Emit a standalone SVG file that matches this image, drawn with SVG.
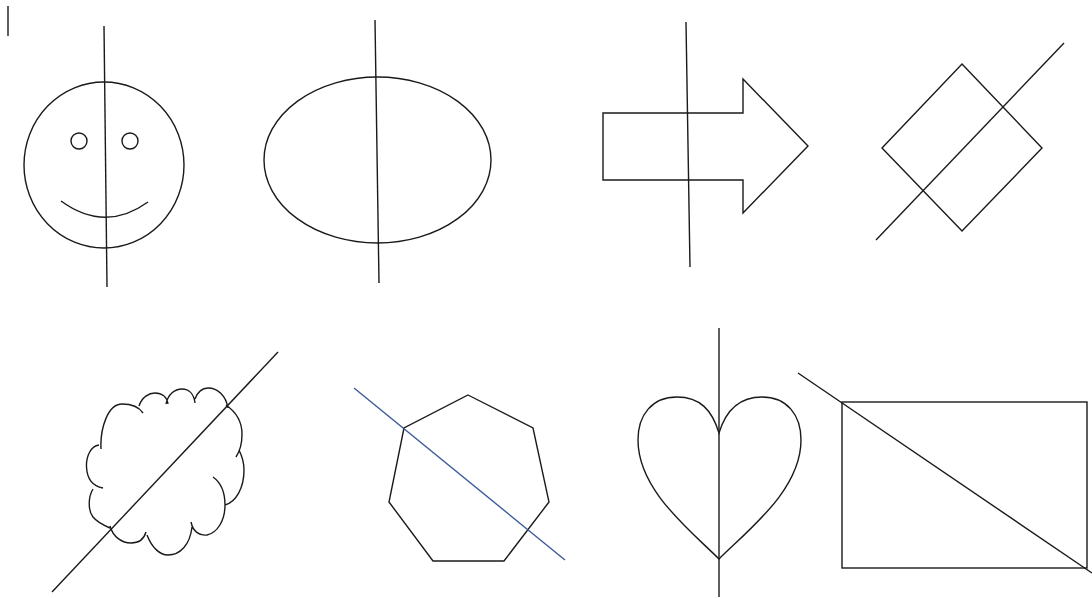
<svg xmlns="http://www.w3.org/2000/svg" width="1092" height="598" viewBox="0 0 1092 598">
<style>
.s{fill:none;stroke:#1a1a1a;stroke-width:1.4;stroke-linejoin:miter}
.b{fill:none;stroke:#3c5a99;stroke-width:1.4}
</style>
<rect width="1092" height="598" fill="#fff"/>
<line class="s" x1="8" y1="6" x2="8" y2="36"/>
<g id="smiley">
<ellipse class="s" cx="104" cy="165" rx="80" ry="83"/>
<circle class="s" cx="79" cy="141" r="8"/>
<circle class="s" cx="130" cy="141" r="8"/>
<path class="s" d="M61,201 Q105,233 148,202"/>
<line class="s" x1="104" y1="26" x2="107" y2="287"/>
</g>
<g id="ellipse">
<ellipse class="s" cx="377.5" cy="160" rx="113.5" ry="83"/>
<line class="s" x1="375" y1="20" x2="379" y2="283"/>
</g>
<g id="arrow">
<path class="s" d="M603,113 L743,113 L743,79 L808,146 L743,213 L743,180 L603,180 Z"/>
<line class="s" x1="686" y1="22" x2="690" y2="267"/>
</g>
<g id="diamond">
<path class="s" d="M962,64 L1042,148 L962,231 L882,148 Z"/>
<line class="s" x1="1064" y1="43" x2="876" y2="240"/>
</g>
<g id="cloud">
<path class="s" d="M101,449 C100,428 108,404 122,404 C132,404 139,407 143,413
M139,406 C142,397 149,393 155,393 C162,393 167,397 168,404
M166,404 C168,394 175,389 182,389 C189,389 194,394 195,403
M195,399 C198,391 203,388 208,388 C218,388 226,396 228,408
M226,405 C236,412 242,422 242,434 C242,444 240,451 236,457
M239,450 C242,456 244,463 244,470 C244,488 236,502 225,505
M213,477 C220,482 225,492 225,505 C225,521 217,533 207,535 C200,536 193,532 191,522
M192,527 C190,545 180,555 168,555 C160,555 152,548 147,535
M146,532 C144,539 139,543 131,543 C122,543 113,537 110,526
M110,528 C103,525 97,522 93,517 C88,511 88,497 93,489
M103,488 C92,486 87,478 86.5,467 C86,456 91,446 99,445"/>
<line class="s" x1="278" y1="352" x2="52" y2="592"/>
</g>
<g id="heptagon">
<path class="s" d="M468,395 L533,428 L549,502 L504,561 L433,561 L389,502 L404,428 Z"/>
<line class="b" x1="354" y1="388" x2="565" y2="560"/>
</g>
<g id="heart">
<path class="s" d="M719,433 C712,410 700,397 677,397 C652,397 638,415 638,440 C638,490 690,530 719,559 C748,530 801,490 801,440 C801,415 787,397 762,397 C740,397 726,410 719,433 Z"/>
<line class="s" x1="719" y1="328" x2="719" y2="597"/>
</g>
<g id="rectangle">
<rect class="s" x="842" y="402" width="245" height="166"/>
<line class="s" x1="798" y1="373" x2="1092" y2="573"/>
</g>
</svg>
